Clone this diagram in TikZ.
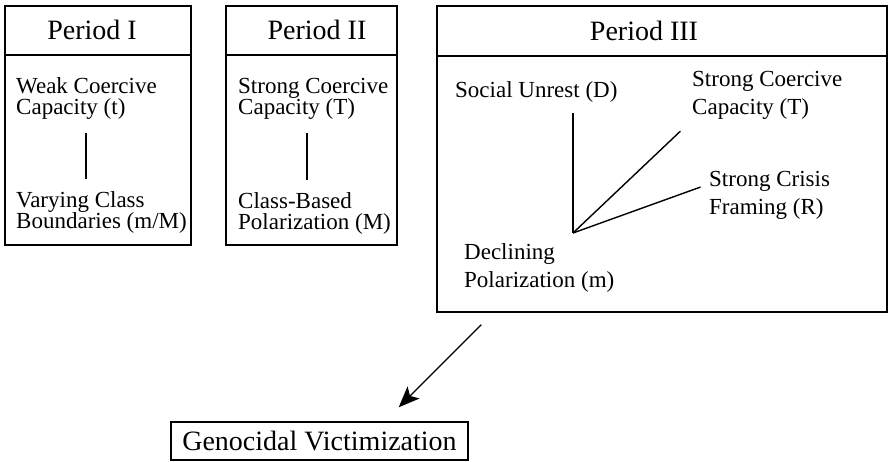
\documentclass[tikz,border=0pt]{standalone}
\usepackage{fontspec}
\setmainfont{Liberation Serif}
\usetikzlibrary{arrows.meta}

\tikzset{
    period/.style={draw,line width=1.4pt,inner sep=0pt},
    head/.style={font=\fontsize{28}{30}\selectfont,inner sep=0pt,anchor=base},
    factor/.style={font=\fontsize{23}{21.5}\selectfont,align=left,inner sep=0pt,anchor=base west},
    loose/.style={font=\fontsize{23}{28}\selectfont},
    link/.style={line width=1.4pt},
}

\begin{document}
\begin{tikzpicture}[x=1pt,y=-1pt]
    \useasboundingbox (0,0) rectangle (889,462);
    \node [period,minimum width=186pt,minimum height=239pt] (p1) at (98,125.5) {};
    \node [period,minimum width=171pt,minimum height=239pt] (p2) at (311.5,125.5) {};
    \node [period,minimum width=450pt,minimum height=306pt] (p3) at (662,159) {};
    \draw [link] (p1.west |- 0,55) -- (p1.east |- 0,55);
    \draw [link] (p2.west |- 0,55) -- (p2.east |- 0,55);
    \draw [link] (p3.west |- 0,56) -- (p3.east |- 0,56);
    \node [head] (h1) at (92,40)  {Period I};
    \node [head] (h2) at (317,40) {Period II};
    \node [head] (h3) at (644,41) {Period III};

    \node [factor] (wc) at (16,115)  {Weak Coercive\\Capacity (t)};
    \node [factor] (vb) at (16,229)  {Varying Class\\Boundaries (m/M)};
    \draw [link,shorten <=13pt,shorten >=12pt] (wc.south -| 86,0) -- (vb.north -| 86,0);

    \node [factor] (sc2) at (238,115) {Strong Coercive\\Capacity (T)};
    \node [factor] (cp)  at (238,230) {Class-Based\\Polarization (M)};
    \draw [link,shorten <=13pt,shorten >=12pt] (sc2.south -| 307,0) -- (cp.north -| 307,0);

    \node [factor,loose] (su) at (455,98)  {Social Unrest (D)};
    \node [factor,loose] (sc) at (692,115) {Strong Coercive\\Capacity (T)};
    \node [factor,loose] (cf) at (709,215) {Strong Crisis\\Framing (R)};
    \node [factor,loose] (dp) at (464,288) {Declining\\Polarization (m)};
    \coordinate (jn) at (573,233);
    \draw [link,shorten >=10pt] (jn) -- (jn |- su.south);
    \draw [link,shorten >=16pt] (jn) -- (sc.south west);
    \draw [link,shorten >=9pt]  (jn) -- ([yshift=31pt]cf.base west);

    \node [period,head,anchor=center,minimum width=297pt,minimum height=38pt] (gv) at (319.5,441) {Genocidal Victimization};
    \draw [link,-{Stealth[length=21pt,width=17pt,inset=5pt]}] ([shift={(45,12)}]p3.south west) -- ([shift={(-70,-14)}]gv.north east);
\end{tikzpicture}
\end{document}
